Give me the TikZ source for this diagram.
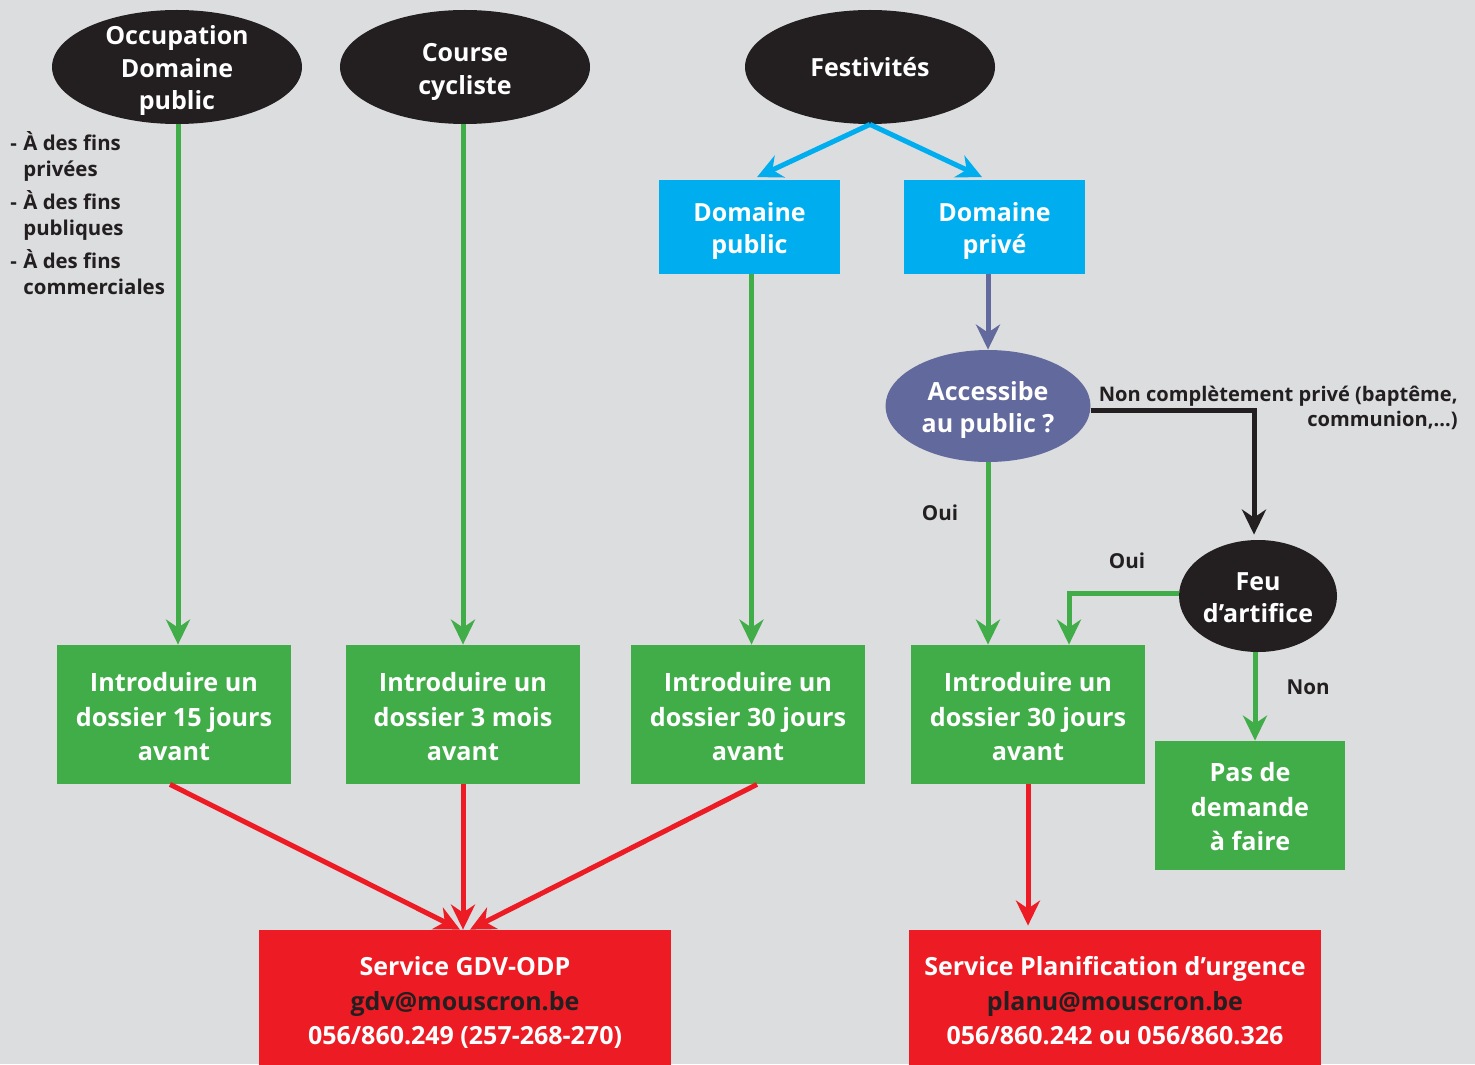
\documentclass[tikz,border=0pt]{standalone}
\usepackage{fontspec}
\setmainfont{Open Sans}
\usetikzlibrary{arrows.meta,shapes.geometric,calc}
\definecolor{bg}{HTML}{DCDDDF}
\definecolor{ink}{HTML}{231F20}
\definecolor{cblue}{HTML}{00AEEF}
\definecolor{cgreen}{HTML}{41AD49}
\definecolor{cred}{HTML}{ED1C24}
\definecolor{cpurple}{HTML}{62699C}
\newcommand\tp[1]{\rule{0pt}{#1}}
\tikzset{
  base/.style={font=\bfseries\fontsize{12.5}{16.25}\selectfont, align=center, text=white, inner sep=0pt},
  blackell/.style={base, ellipse, fill=ink, minimum width=125pt, minimum height=57pt},
  bluebox/.style={base, rectangle, fill=cblue, minimum width=90.5pt, minimum height=46.5pt},
  greenbox/.style={base, rectangle, fill=cgreen, minimum width=117pt, minimum height=69.5pt, font=\bfseries\fontsize{12.6}{17.25}\selectfont},
  redbox/.style={base, rectangle, fill=cred, minimum width=206pt, minimum height=71pt, font=\bfseries\fontsize{12.5}{17.25}\selectfont},
  lbl/.style={font=\bfseries\fontsize{10.3}{12.5}\selectfont, text=ink, inner sep=0pt},
  conn/.style={line width=2.5pt, -{Stealth[length=12.5pt,width=12pt,inset=4pt]}},
  gline/.style={conn, draw=cgreen},
  bline/.style={conn, draw=cblue},
  rline/.style={conn, draw=cred},
  kline/.style={conn, draw=ink},
  pline/.style={conn, draw=cpurple},
}
\begin{document}
\begin{tikzpicture}[x=0.5pt,y=-0.5pt]
\fill[bg] (0,0) rectangle (1475,1064);
\useasboundingbox (0,0) rectangle (1475,1064);

% top ellipses
\node[blackell, inner ysep=-4.5pt] (occ) at (177,67) {\tp{13.5pt}Occupation\\Domaine\\public};
\node[blackell] (cyc) at (465,67) {\tp{14pt}Course\\cycliste};
\node[blackell] (fest) at (870,67) {Festivités};

% blue boxes
\node[bluebox] (dpub) at (749.5,227) {\tp{13.5pt}Domaine\\public};
\node[bluebox] (dpriv) at (994.5,227) {\tp{13.5pt}Domaine\\privé};

% decision ellipses
\node[base, ellipse, fill=cpurple, minimum width=102.5pt, minimum height=56pt] (acc) at (988,406) {\tp{13.5pt}Accessibe\\au public ?};
\node[base, ellipse, fill=ink, minimum width=79pt, minimum height=56pt] (feu) at (1258,596) {\tp{10.5pt}Feu\\d’artifice};

% green boxes
\node[greenbox] (g1) at (174,714.5) {\tp{12pt}Introduire un\\dossier 15 jours\\avant};
\node[greenbox] (g2) at (463,714.5) {\tp{12pt}Introduire un\\dossier 3 mois\\avant};
\node[greenbox] (g3) at (748,714.5) {\tp{12pt}Introduire un\\dossier 30 jours\\avant};
\node[greenbox] (g4) at (1028,714.5) {\tp{12pt}Introduire un\\dossier 30 jours\\avant};
\node[greenbox, minimum width=95pt, minimum height=64.5pt] (pas) at (1250,805.5) {\tp{11pt}Pas de\\demande\\à faire};

% red boxes
\node[redbox] (gdv) at (465,1001) {\tp{11pt}Service GDV-ODP\\\textcolor{ink}{gdv@mouscron.be}\\056/860.249 (257-268-270)};
\node[redbox] (planu) at (1115,1001) {Service Planification d’urgence\\\textcolor{ink}{planu@mouscron.be}\\056/860.242 ou 056/860.326};

% left list
\node[lbl, anchor=north west, align=left, font=\bfseries\fontsize{10.2}{13}\selectfont] (list) at (10,131)
  {\makebox[6.5pt][l]{-}À des fins\\\hspace*{6.5pt}privées\\[3.5pt]
   \makebox[6.5pt][l]{-}À des fins\\\hspace*{6.5pt}publiques\\[3.5pt]
   \makebox[6.5pt][l]{-}À des fins\\\hspace*{6.5pt}commerciales};

% labels
\node[lbl] (oui1) at (940,513) {Oui};
\node[lbl] (oui2) at (1127,561) {Oui};
\node[lbl] (non) at (1308,687) {Non};
\node[lbl, anchor=east, align=right, font=\bfseries\fontsize{10.05}{12.5}\selectfont] (ncp) at (1458,408)
  {Non complètement privé (baptême,\\communion,...)};

% connectors
\draw[gline] ([xshift=0.5pt]occ.south) -- ([xshift=0.5pt]occ.south |- g1.north);
\draw[gline] (cyc.south -| g2.north) -- (g2.north);
\draw[gline] ([xshift=1pt]dpub.south) -- ([xshift=1pt]dpub.south |- g3.north);
\coordinate (tipL) at ([xshift=3.75pt,yshift=1.5pt]dpub.north);
\coordinate (tipR) at ([xshift=-6.25pt,yshift=1.5pt]dpriv.north);
\draw[bline] (fest.south) -- (tipL);
\draw[bline] (fest.south) -- (tipR);
\draw[pline] (acc.north |- dpriv.south) -- (acc.north);
\draw[gline] (acc.south) -- (acc.south |- g4.north);
\draw[kline] ([yshift=-2pt]acc.east) -| ([xshift=-2pt,yshift=2.5pt]feu.north);
\coordinate (g4in) at ([xshift=20.5pt]g4.north);
\draw[gline] ([yshift=1.5pt]feu.west) -| (g4in);
\draw[gline] ([xshift=-1.5pt]feu.south) -- ([xshift=-1.5pt]feu.south |- pas.north);
\draw[rline] ([xshift=-2pt]g1.south) -- ([xshift=-2.5pt]gdv.north);
\draw[rline] (g2.south) -- (g2.south |- gdv.north);
\draw[rline] ([xshift=4.5pt]g3.south) -- ([xshift=2.5pt]gdv.north);
\draw[rline] (g4.south) -- ([yshift=2pt]g4.south |- planu.north);
\end{tikzpicture}
\end{document}
